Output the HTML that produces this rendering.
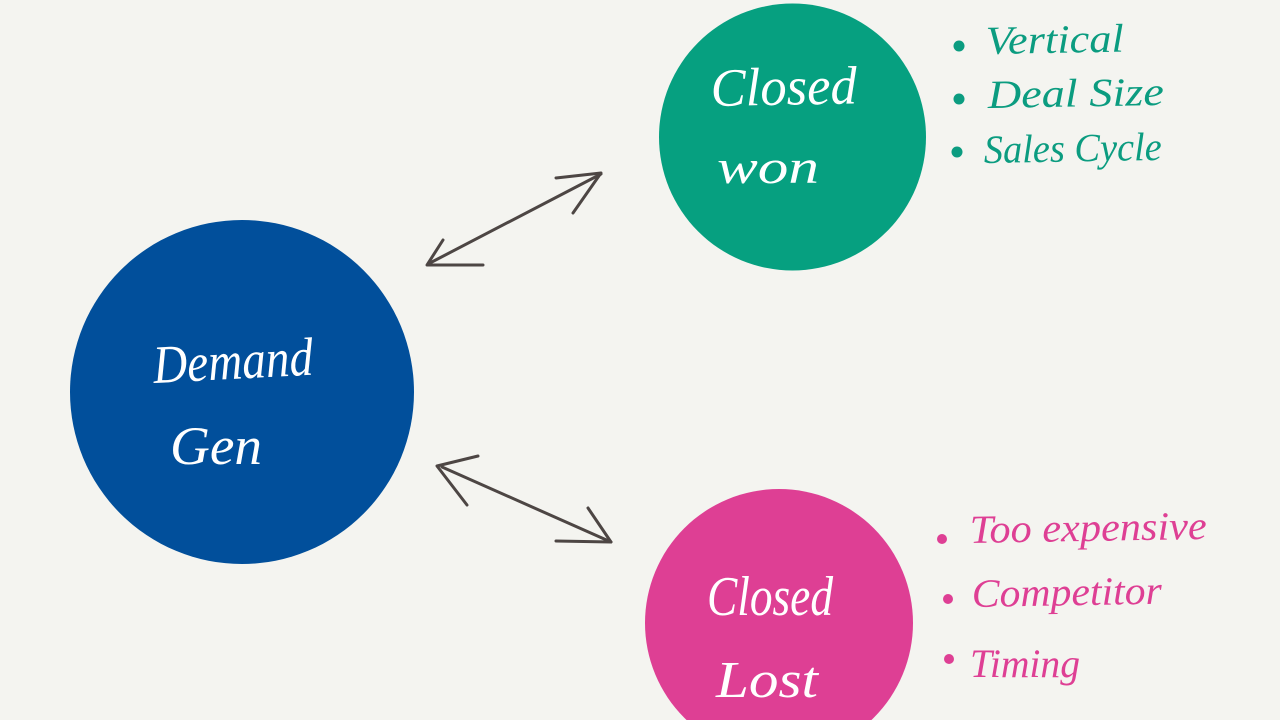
<!DOCTYPE html>
<html>
<head>
<meta charset="utf-8">
<style>
html,body{margin:0;padding:0;width:1280px;height:720px;overflow:hidden;background:#f4f4f0}
svg{display:block}
text{font-family:"Liberation Serif",serif;font-style:italic;font-weight:400}
.w{fill:#fff}
.g{fill:#0b9c80}
.p{fill:#de3f94}
</style>
</head>
<body>
<svg width="1280" height="720" viewBox="0 0 1280 720" xmlns="http://www.w3.org/2000/svg">
<rect width="1280" height="720" fill="#f4f4f0"/>
<circle cx="242" cy="392" r="172" fill="#014f9b"/>
<circle cx="792.500" cy="137" r="133.500" fill="#06a080"/>
<circle cx="779" cy="623" r="134" fill="#de3f94"/>

<g fill="none" stroke="#4d4644" stroke-width="3" stroke-linecap="round" stroke-linejoin="round">
<path d="M428 264 L601 174"/>
<path d="M556 178 L601 173 L573 213"/>
<path d="M483 265 L427 265 L443 240"/>
<path d="M442 467 L611 542"/>
<path d="M478 456 L437 466 L467 505"/>
<path d="M588 508 L611 542 L556 541"/>
</g>

<text class="w" x="154" y="383" font-size="54" textLength="160" lengthAdjust="spacingAndGlyphs" transform="rotate(-3 154 383)">Demand</text>
<text class="w" x="170" y="464" font-size="54" textLength="92" lengthAdjust="spacingAndGlyphs">Gen</text>
<text class="w" x="711" y="106" font-size="54" textLength="146" lengthAdjust="spacingAndGlyphs" transform="rotate(-1 711 106)">Closed</text>
<text class="w" x="717" y="183" font-size="48" textLength="102" lengthAdjust="spacingAndGlyphs">won</text>
<text class="w" x="707" y="615" font-size="56" textLength="126" lengthAdjust="spacingAndGlyphs">Closed</text>
<text class="w" x="716" y="697" font-size="52" textLength="102" lengthAdjust="spacingAndGlyphs">Lost</text>

<circle class="g" cx="959" cy="46" r="5.500"/>
<circle class="g" cx="959" cy="99" r="5.500"/>
<circle class="g" cx="957" cy="152" r="5.500"/>
<text class="g" x="986" y="54" font-size="40" textLength="138" lengthAdjust="spacingAndGlyphs" transform="rotate(-1 986 54)">Vertical</text>
<text class="g" x="988" y="108" font-size="40" textLength="176" lengthAdjust="spacingAndGlyphs" transform="rotate(-1 988 108)">Deal Size</text>
<text class="g" x="984" y="163" font-size="40" textLength="178" lengthAdjust="spacingAndGlyphs" transform="rotate(-1 984 163)">Sales Cycle</text>

<circle class="p" cx="942" cy="539" r="5"/>
<circle class="p" cx="948" cy="599" r="5"/>
<circle class="p" cx="949" cy="659" r="5"/>
<text class="p" x="970" y="543" font-size="40" textLength="237" lengthAdjust="spacingAndGlyphs" transform="rotate(-1 970 543)">Too expensive</text>
<text class="p" x="972" y="607" font-size="40" textLength="190" lengthAdjust="spacingAndGlyphs" transform="rotate(-1 972 607)">Competitor</text>
<text class="p" x="970" y="677" font-size="40" textLength="110" lengthAdjust="spacingAndGlyphs">Timing</text>
</svg>
</body>
</html>
